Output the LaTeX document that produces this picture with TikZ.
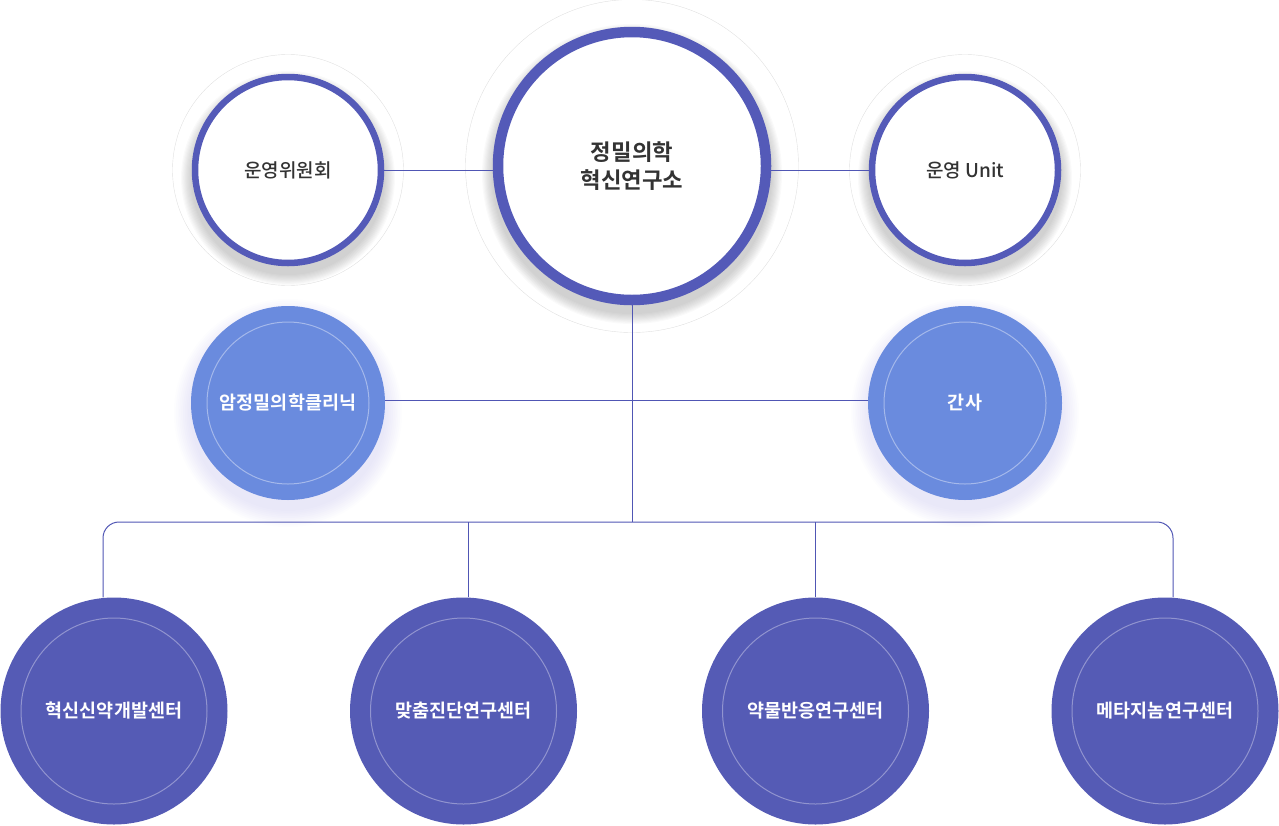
\documentclass[tikz,border=0pt]{standalone}
\usepackage{fontspec}
\setmainfont{Noto Sans CJK KR}
\newfontfamily\medfont{Noto Sans CJK KR Medium}
\newfontfamily\boldfont{Noto Sans CJK KR Bold}
\usetikzlibrary{backgrounds}
\definecolor{ringblue}{RGB}{84,90,184}
\definecolor{deepblue}{RGB}{85,91,181}
\definecolor{skyblue}{RGB}{106,139,222}
\definecolor{linkblue}{RGB}{80,86,180}
\definecolor{textgray}{RGB}{51,51,51}
\definecolor{halo}{RGB}{224,224,224}
\definecolor{glow}{RGB}{110,100,210}
\begin{document}
\begin{tikzpicture}[x=1pt,y=-1pt,
  topcircle/.style={circle,draw=ringblue,line width=6.5pt,fill=white,minimum size=186pt,
    text=textgray,font=\medfont\fontsize{19}{20}\selectfont},
  chiefcircle/.style={topcircle,line width=10.5pt,minimum size=268pt,align=center,
    font=\boldfont\fontsize{22.3}{28}\selectfont},
  staffcircle/.style={circle,fill=skyblue,minimum size=194pt,text=white,
    font=\boldfont\fontsize{18.5}{20}\selectfont},
  centercircle/.style={circle,fill=deepblue,minimum size=227pt,text=white,
    font=\boldfont\fontsize{18.5}{20}\selectfont},
  link/.style={draw=linkblue,line width=1pt}]
  \useasboundingbox (0,0) rectangle (1279,825);
  % top row
  \node[chiefcircle] (inst) at (632,166) {정밀의학\\혁신연구소};
  \node[topcircle] (board) at (288,170) {운영위원회};
  \node[topcircle] (unit) at (965,170) {운영 Unit};
  % middle row
  \node[staffcircle] (clinic) at (288,403) {암정밀의학클리닉};
  \node[staffcircle] (secr) at (965,403) {간사};
  % centers
  \node[centercircle] (drug) at (114,711) {혁신신약개발센터};
  \node[centercircle] (diag) at (463.5,711) {맞춤진단연구센터};
  \node[centercircle] (react) at (815.5,711) {약물반응연구센터};
  \node[centercircle] (meta) at (1165,711) {메타지놈연구센터};
  \coordinate (bus) at (632,522);
  \foreach \n in {clinic,secr}
    \draw[skyblue!60!white,line width=1pt] (\n.center) circle[radius=81pt];
  \foreach \n in {drug,diag,react,meta}
    \draw[deepblue!65!white,line width=1pt] (\n.center) circle[radius=93pt];
  \begin{scope}[on background layer]
    \foreach \n/\r in {board/96,inst/139,unit/96}
      \foreach \i in {1,...,10}
        \fill[black,opacity=0.02] ([yshift=-8pt]\n.center) circle[radius={(\r+1.1*\i)*1pt}];
    \foreach \n in {clinic,secr}
      \foreach \i in {1,...,10}
        \fill[glow,opacity=0.014] ([yshift=-10pt]\n.center) circle[radius={(96+1.8*\i)*1pt}];
    \draw[halo] (board.center) circle[radius=115.5pt] (unit.center) circle[radius=115.5pt]
      (inst.center) circle[radius=166.5pt];
    \draw[link] (board.east) -- (board.east -| inst.west);
    \draw[link] (unit.west -| inst.east) -- (unit.west);
    \draw[link] (inst.south) -- (bus);
    \draw[link] ([yshift=3pt]clinic.east) -- ([yshift=3pt]secr.west);
    \draw[link,rounded corners=16pt] ([xshift=-11pt]drug.north) |- (bus) -| ([xshift=8pt]meta.north);
    \draw[link] ([xshift=4.5pt]diag.north) -- ([xshift=4.5pt]diag.north |- bus);
    \draw[link] (react.north) -- (react.north |- bus);
  \end{scope}
\end{tikzpicture}
\end{document}
